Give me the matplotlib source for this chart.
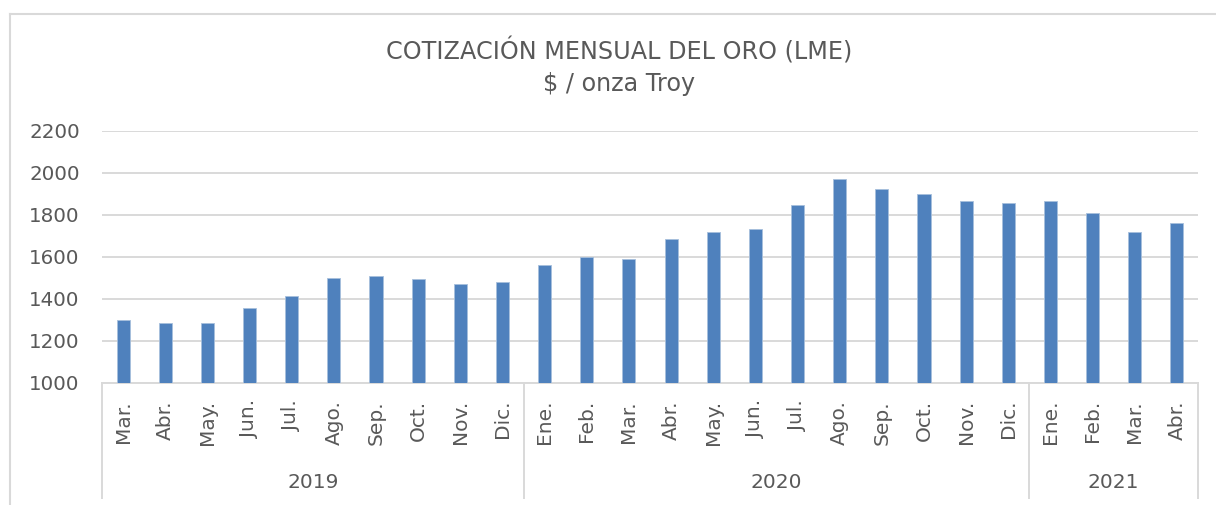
import matplotlib
matplotlib.use("Agg")
import matplotlib.pyplot as plt
from matplotlib.lines import Line2D
import matplotlib.transforms as mtransforms

plt.rcParams['font.family'] = ['DejaVu Sans']

months = ["Mar.", "Abr.", "May.", "Jun.", "Jul.", "Ago.", "Sep.", "Oct.", "Nov.", "Dic.",
          "Ene.", "Feb.", "Mar.", "Abr.", "May.", "Jun.", "Jul.", "Ago.", "Sep.", "Oct.", "Nov.", "Dic.",
          "Ene.", "Feb.", "Mar.", "Abr."]
values = [1300, 1285, 1284, 1359, 1413, 1500, 1511, 1495, 1471, 1480,
          1560, 1597, 1591, 1683, 1716, 1732, 1846, 1968, 1921, 1900, 1866, 1858,
          1867, 1808, 1718, 1760]
years = ["2019", "2020", "2021"]
year_counts = [10, 12, 4]
title = "COTIZACIÓN MENSUAL DEL ORO (LME)\n$ / onza Troy"

TXT = "#595959"
GRID = "#d9d9d9"
BAR = "#4f81bd"

W, H = 1216, 505
fig = plt.figure(figsize=(W / 100, H / 100), dpi=100)
ax = fig.add_axes([102 / W, 1 - 383 / H, (1198 - 102) / W, (383 - 130.7) / H])

n = len(values)
x = list(range(n))
ax.bar(x, values, width=0.31, color=BAR, edgecolor="#a7bfdc", linewidth=0.6, zorder=3)
ax.set_xlim(-0.5, n - 0.5)
ax.set_ylim(1000, 2200)
ax.set_yticks(range(1000, 2201, 200))
ax.yaxis.grid(True, color=GRID, linewidth=1.4, zorder=0)
for s in ["top", "right", "left"]:
    ax.spines[s].set_visible(False)
ax.spines["bottom"].set_color(GRID)
ax.spines["bottom"].set_linewidth(1.4)
ax.tick_params(axis="y", length=0, pad=16, labelsize=14.3, labelcolor=TXT)
ax.tick_params(axis="x", length=0)
ax.set_xticks([])

trans = mtransforms.blended_transform_factory(ax.transData, ax.transAxes)
px = 1.0 / (383 - 130.7)
# month labels
for i, m in enumerate(months):
    ax.text(i, -(400 - 383) * px, m, rotation=90, ha="center", va="top",
            fontsize=14.5, color=TXT, transform=trans)
# year labels and separators
start = 0
bounds = [-0.5]
for y, c in zip(years, year_counts):
    center = start + (c - 1) / 2
    ax.text(center, -(483 - 383) * px, y, ha="center", va="center",
            fontsize=14.5, color=TXT, transform=trans)
    start += c
    bounds.append(start - 0.5)
for b in bounds:
    ax.add_line(Line2D([b, b], [0, -(498 - 383) * px], color=GRID, linewidth=1.4,
                       transform=trans, clip_on=False))

fig.text(619 / W, 1 - 67 / H, title, ha="center", va="center", fontsize=17.2,
         color=TXT, linespacing=1.42)

# outer chart border (left and top)
fig.add_artist(Line2D([10 / W, 10 / W], [1 - 14 / H, 0], color=GRID, linewidth=1.5,
                      transform=fig.transFigure))
fig.add_artist(Line2D([10 / W, 1], [1 - 14 / H, 1 - 14 / H], color=GRID, linewidth=1.5,
                      transform=fig.transFigure))

fig.savefig("out.png", dpi=100, facecolor="white")
